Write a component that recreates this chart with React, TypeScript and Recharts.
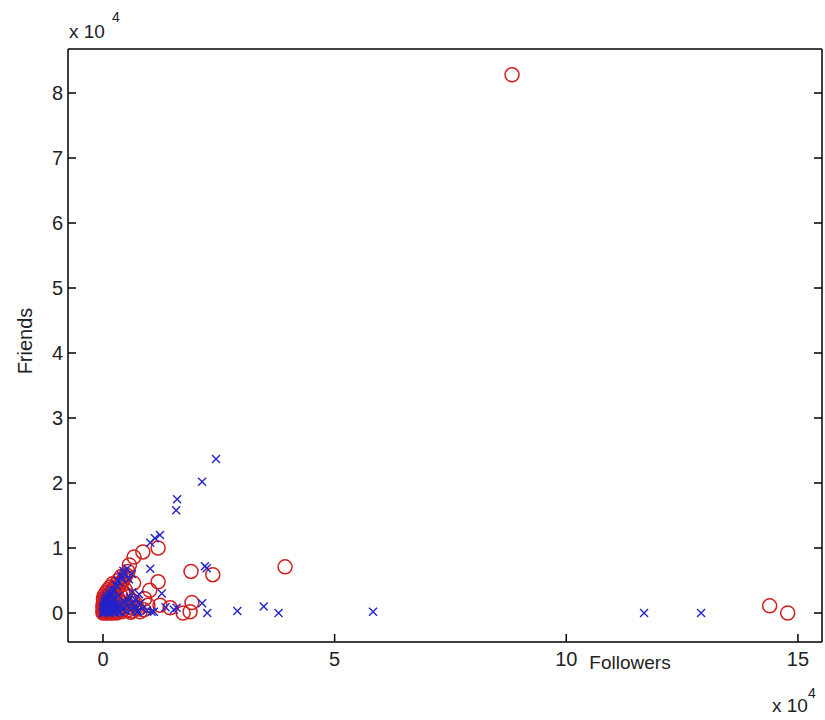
import { ScatterChart, Scatter, XAxis, YAxis } from 'recharts';

const RED = '#d21e1e';
const BLUE = '#2323c8';
const FONT = '"Liberation Sans", Arial, sans-serif';

const xTicks = [0, 50000, 100000, 150000];
const yTicks = [0, 10000, 20000, 30000, 40000, 50000, 60000, 70000, 80000];

// red circles (followers / friends)
const redFollowers = [
  0, 200, 400, 600, 800, 1000, 300, 500, 700, 1200, 1500, 1800, 2000, 2300, 2600, 100, 900, 1400, 2800, 3100,
  3400, 1700, 2200, 3700, 4000, 2600, 3000, 3500, 4100, 4600, 5000, 5400, 3800, 4500, 5200, 5800, 6300, 4800,
  6000, 0, 0, 100, 300, 600, 1100, 1600, 2100, 7000, 8000, 9700, 7500, 5700,
  0, 200, 500, 800, 1300, 1900, 2400, 2900, 3300, 3900, 1000, 1600, 2500, 3200, 4300, 300, 700, 1300, 2000, 2900,
  3500, 4200, 5500, 6500, 7200, 8800, 6600, 9000,
  88300, 143900, 147800, 39300, 23700, 19000, 19200, 17300, 11900, 8600, 6700, 11900, 10100, 12300, 14500, 18800,
];
const redFriends = [
  0, 100, 300, 200, 500, 100, 900, 1200, 800, 400, 900, 300, 1500, 700, 200, 1600, 1900, 2100, 1100, 300,
  1800, 2600, 2900, 600, 200, 3300, 3700, 4200, 4800, 5300, 5900, 6400, 2700, 1500, 400, 900, 300, 3600,
  100, 300, 800, 2200, 2700, 3100, 3600, 4000, 4500, 1500, 200, 1200, 600, 7400,
  1200, 1900, 2300, 2600, 3000, 3400, 3900, 4400, 5000, 5600, 600, 1300, 1800, 2300, 3000, 500, 0, 0, 0, 0,
  1300, 500, 2500, 1800, 900, 500, 4600, 2200,
  82800, 1100, 0, 7100, 5900, 6400, 1600, 0, 10000, 9400, 8600, 4800, 3500, 1200, 800, 200,
];

// blue crosses (followers / friends)
const blueFollowers = [
  0, 100, 300, 500, 200, 700, 900, 400, 1100, 1300, 600, 1600, 1900, 800, 2200, 2500, 1200, 2800, 3100, 1500,
  3500, 2000, 3800, 4200, 2500, 3000, 4500, 3600, 5000, 4100, 5500, 4600, 6000, 5200, 6800, 7500, 8500, 9500,
  10500, 150, 350, 50, 250, 650, 1000, 1700, 2300, 3300, 4000, 5800, 6300, 7000, 5600, 6200,
  50, 150, 250, 350, 450, 550, 650, 750, 850, 950, 1050, 1150, 1250, 1350, 1450, 1550, 1750, 1850, 2050, 2150,
  2350, 2450, 2650, 2750, 2950, 3200, 3400, 400, 600, 900, 1300, 1800, 2700, 3200, 3900, 4400, 5500, 6400, 7100, 8100,
  24400, 21400, 16000, 15800, 12300, 11200, 10200, 10200, 22000, 22400, 12700, 21400, 22500, 29000, 34700, 37900,
  58300, 116800, 129100, 15300, 15900, 11000, 7400, 13500, 7800,
];
const blueFriends = [
  0, 200, 100, 400, 700, 200, 600, 1000, 300, 900, 1400, 500, 1200, 1800, 200, 800, 2200, 1500, 400, 2700,
  1000, 3000, 200, 700, 3500, 4100, 1800, 4700, 300, 5400, 1200, 6100, 500, 6800, 1000, 300, 700, 400,
  200, 1200, 1600, 900, 500, 900, 1500, 1900, 2400, 2600, 1200, 2400, 3200, 2000, 5200, 6000,
  50, 350, 250, 650, 150, 750, 550, 1050, 350, 950, 1250, 650, 50, 450, 1350, 1050, 750, 250, 650, 1650,
  1150, 350, 50, 950, 650, 1300, 100, 1900, 2300, 2600, 3100, 3600, 4400, 5000, 5800, 6500, 1900, 1400, 600, 1500,
  23700, 20200, 17500, 15800, 12000, 11500, 10800, 6800, 7200, 6900, 3000, 1500, 0, 300, 1000, 0,
  200, 0, 0, 500, 800, 200, 100, 900, 2900,
];

const toPoints = (xs: number[], ys: number[]) => xs.map((x, i) => ({ followers: x, friends: ys[i] }));
const redData = toPoints(redFollowers, redFriends);
const blueData = toPoints(blueFollowers, blueFriends);

const Ring = (props: any) => (
  <circle cx={props.cx} cy={props.cy} r={7} fill="none" stroke={RED} strokeWidth={1.5} />
);

const Cross = (props: any) => {
  const { cx, cy } = props;
  const s = 4;
  return (
    <path
      d={`M${cx - s},${cy - s}L${cx + s},${cy + s}M${cx - s},${cy + s}L${cx + s},${cy - s}`}
      stroke={BLUE}
      strokeWidth={1.4}
      fill="none"
    />
  );
};

const NoTick = () => <g />;

const xDomain = [-7550, 155200];
const yDomain = [-4460, 86770];
const tickStyle = { fill: '#222', fontSize: 20, fontFamily: FONT };

export default function App() {
  return (
    <div style={{ position: 'absolute', left: 0, top: 0, width: 825, height: 720, background: '#fff' }}>
      <ScatterChart width={825} height={720} margin={{ top: 48, right: 2, left: 8, bottom: 38 }}>
        <XAxis
          xAxisId="b"
          type="number"
          dataKey="followers"
          domain={xDomain}
          allowDataOverflow
          ticks={xTicks}
          tickFormatter={(v: number) => String(v / 10000)}
          tickSize={-8}
          tickMargin={18}
          height={40}
          stroke="#000"
          strokeWidth={1.5}
          tick={tickStyle}
        />
        <XAxis
          xAxisId="t"
          orientation="top"
          type="number"
          domain={xDomain}
          allowDataOverflow
          ticks={xTicks}
          tickSize={-8}
          height={1}
          stroke="#000"
          strokeWidth={1.5}
          tick={NoTick}
        />
        <YAxis
          yAxisId="l"
          type="number"
          dataKey="friends"
          domain={yDomain}
          allowDataOverflow
          ticks={yTicks}
          tickFormatter={(v: number) => String(v / 10000)}
          tickSize={-8}
          tickMargin={13}
          width={60}
          stroke="#000"
          strokeWidth={1.5}
          tick={tickStyle}
        />
        <YAxis
          yAxisId="r"
          orientation="right"
          type="number"
          domain={yDomain}
          allowDataOverflow
          ticks={yTicks}
          tickSize={-8}
          width={1}
          stroke="#000"
          strokeWidth={1.5}
          tick={NoTick}
        />
        <Scatter xAxisId="b" yAxisId="l" data={redData} shape={Ring} isAnimationActive={false} />
        <Scatter xAxisId="b" yAxisId="l" data={blueData} shape={Cross} isAnimationActive={false} />
      </ScatterChart>
      <svg
        width={825}
        height={720}
        style={{ position: 'absolute', left: 0, top: 0, pointerEvents: 'none' }}
        fontFamily={FONT}
        fill="#222"
      >
        <text x={630} y={669} fontSize={19} textAnchor="middle">Followers</text>
        <text transform="translate(32,341) rotate(-90)" fontSize={20} textAnchor="middle">Friends</text>
        <text x={69} y={38} fontSize={19}>x 10</text>
        <text x={112} y={22} fontSize={14}>4</text>
        <text x={772} y={712} fontSize={19}>x 10</text>
        <text x={808} y={698} fontSize={14}>4</text>
      </svg>
    </div>
  );
}
